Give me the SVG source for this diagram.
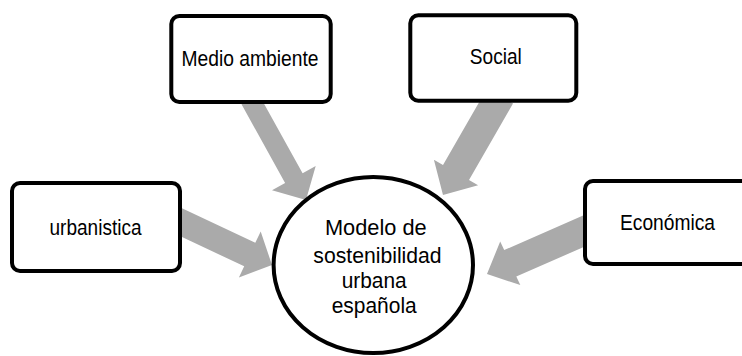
<svg xmlns="http://www.w3.org/2000/svg" width="742" height="356" viewBox="0 0 742 356">
  <style>
    .box { fill: #ffffff; stroke: #000000; stroke-width: 4; }
    .arrow { fill: #aaaaaa; stroke: none; }
    .lbl { font-family: "Liberation Sans", Arial, sans-serif; font-size: 21.5px; fill: #000000; text-anchor: middle; }
  </style>
  <rect width="742" height="356" fill="#ffffff"/>
  <g id="connectors">
    <polygon class="arrow" points="241.5,104.3 285.1,183.0 272.0,190.3 306,200 315.7,166.0 302.6,173.3 258.9,94.5"/>
    <polygon class="arrow" points="487.0,88.5 443.0,165.0 433.9,159.8 443,195 478.1,185.2 469.0,180.0 513.0,103.5"/>
    <polygon class="arrow" points="164.5,228.8 244.2,266.3 238.9,277.6 272,265 260.7,231.5 255.3,242.8 175.6,205.3"/>
    <polygon class="arrow" points="589.9,212.6 504.2,250.1 500.2,241.5 487,274 520.3,285.1 516.3,276.5 602.0,239.0"/>
  </g>
  <g id="node-medio-ambiente">
    <rect class="box" x="171.3" y="16" width="159.4" height="86" rx="8"/>
    <text class="lbl" x="250" y="66" textLength="137" lengthAdjust="spacingAndGlyphs">Medio ambiente</text>
  </g>
  <g id="node-social">
    <rect class="box" x="410.3" y="15.3" width="166" height="85.4" rx="8"/>
    <text class="lbl" x="495.8" y="64" textLength="52" lengthAdjust="spacingAndGlyphs">Social</text>
  </g>
  <g id="node-urbanistica">
    <rect class="box" x="12" y="183" width="168" height="88" rx="8"/>
    <text class="lbl" x="95.5" y="235" textLength="92" lengthAdjust="spacingAndGlyphs">urbanistica</text>
  </g>
  <g id="node-economica">
    <rect class="box" x="585" y="181" width="170" height="83" rx="8"/>
    <text class="lbl" x="667.5" y="230" textLength="95" lengthAdjust="spacingAndGlyphs">Económica</text>
  </g>
  <g id="node-modelo">
    <ellipse class="box" cx="373.3" cy="265" rx="99.7" ry="88"/>
    <text class="lbl" x="375.8" y="235" textLength="101.7" lengthAdjust="spacingAndGlyphs">Modelo de</text>
    <text class="lbl" x="377.5" y="262.7" textLength="128.3" lengthAdjust="spacingAndGlyphs">sostenibilidad</text>
    <text class="lbl" x="374.2" y="288.3" textLength="65" lengthAdjust="spacingAndGlyphs">urbana</text>
    <text class="lbl" x="374.2" y="313.3" textLength="85" lengthAdjust="spacingAndGlyphs">española</text>
  </g>
</svg>
